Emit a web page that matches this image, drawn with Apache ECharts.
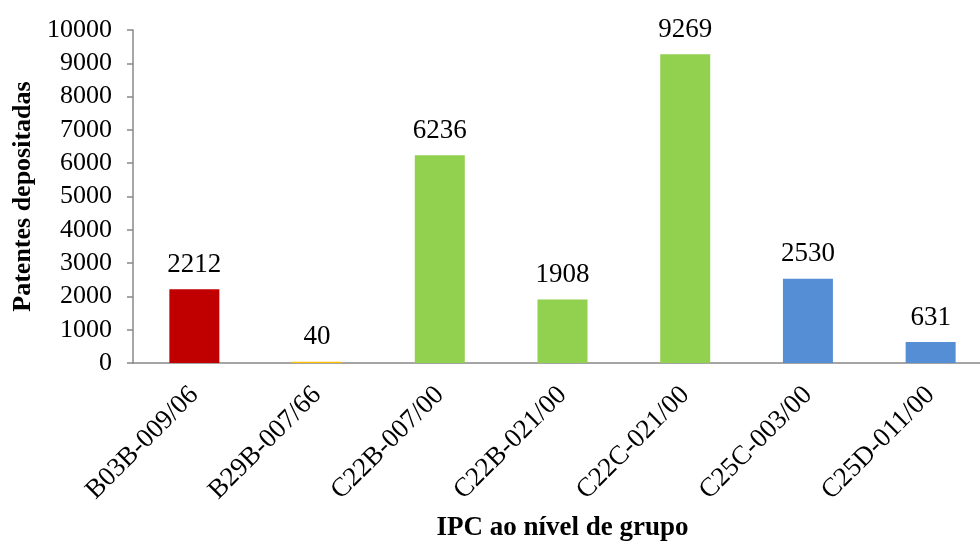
<!DOCTYPE html>
<html>
<head>
<meta charset="utf-8"/>
<title>Patentes depositadas</title>
<script src="https://cdn.jsdelivr.net/npm/echarts@6/dist/echarts.min.js"></script>
<style>
	body{margin:0;padding:0;background:#fff;}
	#chart{width:980px;height:542px;}
</style>
</head>
<body>
<div id="chart"></div>
<script type="text/javascript">
	// dados
	var categorias = ['B03B-009/06','B29B-007/66','C22B-007/00','C22B-021/00','C22C-021/00','C25C-003/00','C25D-011/00'];
	var patentes = [2212, 40, 6236, 1908, 9269, 2530, 631];
	var cores = ['#C00000','#FFC000','#92D050','#92D050','#92D050','#558ED5','#558ED5'];

	var fonte = '"Liberation Serif", "Times New Roman", serif';
	var eixoCor = '#888888';

	var dados = [];
	for(var i=0;i<patentes.length;i++){
		dados.push({value: patentes[i], itemStyle: {color: cores[i]}});
	}

	var grafico = echarts.init(document.getElementById('chart'));
	grafico.setOption({
		animation: false,
		grid: {left: 133, top: 30, right: -12, bottom: 179, containLabel: false, outerBoundsMode: 'none'},
		xAxis: {
			type: 'category',
			data: categorias,
			name: 'IPC ao nível de grupo',
			nameLocation: 'middle',
			nameGap: 152,
			nameTextStyle: {fontFamily: fonte, fontWeight: 'bold', fontSize: 27, color: '#000'},
			axisLine: {lineStyle: {color: eixoCor, width: 1.5}},
			axisTick: {length: 6, lineStyle: {color: eixoCor, width: 1.5}},
			axisLabel: {rotate: 45, margin: 28, fontFamily: fonte, fontSize: 27, color: '#000', interval: 0}
		},
		yAxis: {
			type: 'value',
			min: 0,
			max: 10000,
			interval: 1000,
			name: 'Patentes depositadas',
			nameLocation: 'middle',
			nameGap: 96,
			nameRotate: 90,
			nameTextStyle: {fontFamily: fonte, fontWeight: 'bold', fontSize: 26, color: '#000'},
			axisLine: {show: true, lineStyle: {color: eixoCor, width: 1.5}},
			axisTick: {show: true, length: 6, lineStyle: {color: eixoCor, width: 1.5}},
			splitLine: {show: false},
			axisLabel: {
				margin: 21,
				fontFamily: fonte,
				fontSize: 26,
				color: '#000',
				formatter: function(v){ return String(v); }
			}
		},
		series: [{
			type: 'bar',
			data: dados,
			barWidth: 50,
			label: {
				show: true,
				position: 'top',
				distance: 11,
				fontFamily: fonte,
				fontSize: 27,
				color: '#000'
			}
		}]
	});
</script>
</body>
</html>
